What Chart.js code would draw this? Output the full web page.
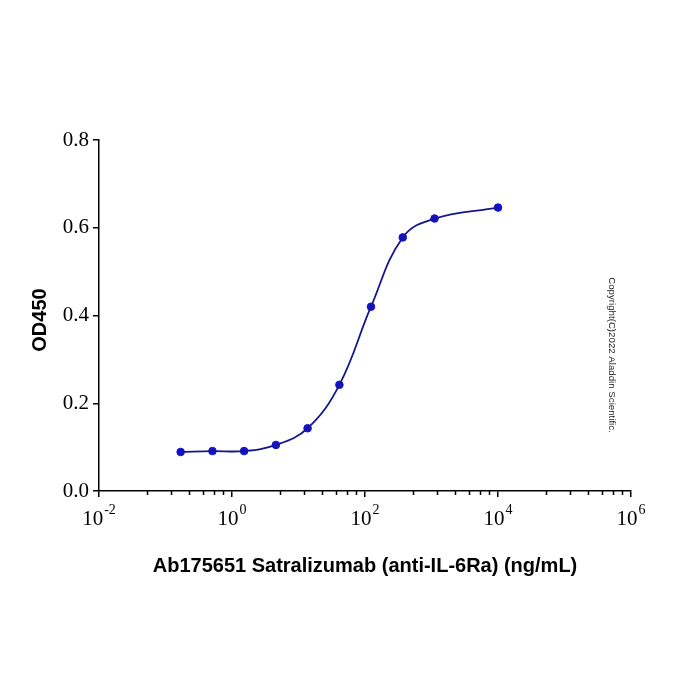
<!DOCTYPE html>
<html>
<head>
<meta charset="utf-8">
<script src="https://cdn.jsdelivr.net/npm/chart.js@4/dist/chart.umd.min.js"></script>
<style>
  html, body { margin: 0; padding: 0; background: #fff; }
  #wrap { width: 700px; height: 700px; }
</style>
</head>
<body>
<div id="wrap"><canvas id="odChart" width="700" height="700"></canvas></div>
<script>
// concentrations (ng/mL) and OD450 readings
const conc = [0.169, 0.508, 1.52, 4.57, 13.7, 41.2, 123, 370, 1111, 10000];
const od450 = [0.089, 0.091, 0.091, 0.105, 0.143, 0.242, 0.420, 0.578, 0.621, 0.646];

// axis ticks
const xMajorTicks = [1e-2, 1e0, 1e2, 1e4, 1e6];
const xMinorMultiples = [5.25, 12.3, 22.9, 37, 54, 74]; // per 2-decade span
const yTicks = [0, 0.2, 0.4, 0.6, 0.8];

const xTitle = 'Ab175651 Satralizumab (anti-IL-6Ra) (ng/mL)';
const yTitle = 'OD450';
const copyright = 'Copyright(C)2022 Aladdin Scientific.';

const pts = conc.map((c, i) => ({x: c, y: od450[i]}));

const extras = {
  id: 'extras',
  afterDraw(chart) {
    const ctx = chart.ctx;
    const xs = chart.scales.x;
    const area = chart.chartArea;
    ctx.save();
    ctx.strokeStyle = '#000';
    ctx.lineWidth = 1.5;
    // minor ticks
    for (let i = 0; i < xMajorTicks.length - 1; i++) {
      xMinorMultiples.forEach(m => {
        const px = Math.round(xs.getPixelForValue(xMajorTicks[i] * m)) + 0.5;
        ctx.beginPath();
        ctx.moveTo(px, area.bottom);
        ctx.lineTo(px, area.bottom + 4);
        ctx.stroke();
      });
    }
    // x tick labels with exponents
    ctx.fillStyle = '#000';
    ctx.textBaseline = 'alphabetic';
    ctx.textAlign = 'left';
    xMajorTicks.forEach(v => {
      const exp = String(Math.round(Math.log10(v)));
      const px = xs.getPixelForValue(v);
      ctx.font = '21px "Liberation Serif"';
      const wBase = ctx.measureText('10').width;
      ctx.font = '14px "Liberation Serif"';
      const wExp = ctx.measureText(exp).width;
      const left = px - (wBase + 1 + wExp) / 2;
      ctx.font = '21px "Liberation Serif"';
      ctx.fillText('10', left, 525);
      ctx.font = '14px "Liberation Serif"';
      ctx.fillText(exp, left + wBase + 1, 514);
    });
    // axis titles
    ctx.font = 'bold 20px "Liberation Sans"';
    ctx.textAlign = 'center';
    ctx.textBaseline = 'middle';
    ctx.fillText(xTitle, 365, 566);
    ctx.save();
    ctx.translate(40, 320);
    ctx.rotate(-Math.PI / 2);
    ctx.fillText(yTitle, 0, 0);
    ctx.restore();
    // copyright
    ctx.save();
    ctx.translate(612, 355);
    ctx.rotate(Math.PI / 2);
    ctx.font = '9.7px "Liberation Sans"';
    ctx.fillStyle = '#222';
    ctx.fillText(copyright, 0, 0);
    ctx.restore();
    ctx.restore();
  }
};

window.addEventListener('load', () => {
  const ctx = document.getElementById('odChart');
  new Chart(ctx, {
    type: 'scatter',
    data: {
      datasets: [
        {
          label: 'fit',
          data: pts,
          showLine: true,
          tension: 0.4,
          borderColor: '#16168e',
          borderWidth: 1.8,
          pointRadius: 0,
          fill: false
        },
        {
          label: 'OD450',
          data: pts,
          showLine: false,
          backgroundColor: '#1212cc',
          borderColor: '#1212cc',
          pointRadius: 3.8
        }
      ]
    },
    options: {
      responsive: false,
      animation: false,
      layout: {padding: {top: 140, right: 69, left: 0, bottom: 0}},
      plugins: {legend: {display: false}, tooltip: {enabled: false}},
      scales: {
        x: {
          type: 'logarithmic',
          min: 1e-2,
          max: 1e6,
          afterBuildTicks: s => { s.ticks = xMajorTicks.map(v => ({value: v})); },
          afterFit: s => { s.height = 209; },
          ticks: {display: false},
          grid: {drawOnChartArea: false, tickLength: 6, color: '#000', lineWidth: 1.5},
          border: {color: '#000', width: 1.5}
        },
        y: {
          min: 0,
          max: 0.8,
          afterBuildTicks: s => { s.ticks = yTicks.map(v => ({value: v})); },
          afterFit: s => { s.width = 99; },
          ticks: {
            color: '#000',
            padding: 4,
            font: {family: 'Liberation Serif', size: 21},
            callback: v => Number(v).toFixed(1)
          },
          grid: {drawOnChartArea: false, tickLength: 6, color: '#000', lineWidth: 1.5},
          border: {color: '#000', width: 1.5}
        }
      }
    },
    plugins: [extras]
  });
});
</script>
</body>
</html>
